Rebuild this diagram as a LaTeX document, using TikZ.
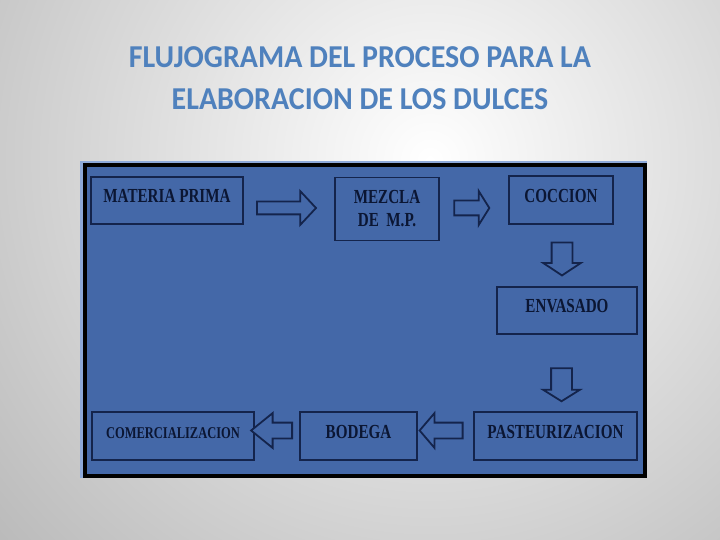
\documentclass[tikz,border=0pt]{standalone}
\usepackage{fontspec}
\usepackage{tikz}
\usetikzlibrary{shapes.arrows}
\setmainfont{Liberation Serif}
\newfontfamily\boxfont[FakeStretch=0.76]{Liberation Serif}
\newfontfamily\titlefont[FakeStretch=0.94]{Carlito}
\definecolor{panelBlue}{HTML}{4468A8}
\definecolor{edgeBlue}{HTML}{8DA9D9}
\definecolor{boxLine}{HTML}{14244C}
\definecolor{boxText}{HTML}{0B1633}
\definecolor{titleBlue}{HTML}{4F81BD}
\tikzstyle{heading} = [text=titleBlue, anchor=base, font=\titlefont\bfseries\fontsize{32}{40}\selectfont]
\tikzstyle{stepbox} = [rectangle, draw=boxLine, line width=1.3bp, text=boxText, text centered, font=\boxfont\bfseries\fontsize{20}{23}\selectfont]
\tikzstyle{oneline} = [text height=12bp, text depth=7.5bp]
\tikzstyle{blockarrow} = [single arrow, draw=boxLine, line width=1.8bp, fill=panelBlue, inner sep=0pt, text height=0pt, text depth=0pt, single arrow tip angle=100]

\begin{document}
\begin{tikzpicture}[x=1bp, y=-1bp]

\useasboundingbox (0,0) rectangle (720,540);
\begin{scope}
\clip (0,0) rectangle (720,540);
\shade[inner color=white, outer color=black!42] (430,160) circle (900bp);
\end{scope}

\node[heading] at (360,68) (titleTop) {FLUJOGRAMA DEL PROCESO PARA LA};
\node[heading] at (360,110) (titleBottom) {ELABORACION DE LOS DULCES};

\fill[edgeBlue] (80,161) rectangle (647,478);
\draw[black, line width=4bp, fill=panelBlue] (84.5,165) rectangle (644.5,475.5);

\node[stepbox, oneline, minimum width=152bp, minimum height=47bp] at (167,200.5) (materiaPrima) {MATERIA PRIMA};
\node[stepbox, minimum width=104bp, minimum height=63bp, align=center] at (387,209) (mezcla) {MEZCLA\\DE\ \ M.P.};
\node[stepbox, oneline, minimum width=104bp, minimum height=48bp] at (561,200) (coccion) {COCCION};
\node[stepbox, oneline, minimum width=140bp, minimum height=47bp] at (567,310.5) (envasado) {ENVASADO};
\node[stepbox, oneline, minimum width=163bp, minimum height=48bp] at (555.5,436) (pasteurizacion) {PASTEURIZACION};
\node[stepbox, oneline, minimum width=117bp, minimum height=48bp] at (358.5,436) (bodega) {BODEGA};
\node[stepbox, oneline, minimum width=162bp, minimum height=48bp, font=\boxfont\bfseries\fontsize{16.5}{20}\selectfont] at (173,436) (comercializacion) {COMERCIALIZACION};

\node[blockarrow, minimum height=59bp, inner ysep=5.5bp, single arrow head extend=10.5bp, single arrow tip angle=94] at (283.5,208) (toMezcla) {};
\node[blockarrow, minimum height=35bp, inner ysep=6.5bp, single arrow head extend=9.5bp, single arrow tip angle=116] at (469.5,208) (toCoccion) {};
\node[blockarrow, minimum height=33bp, inner ysep=9.5bp, single arrow head extend=8.5bp, single arrow tip angle=113, rotate=-90] at (562,255.5) (toEnvasado) {};
\node[blockarrow, minimum height=33bp, inner ysep=9.5bp, single arrow head extend=8bp, single arrow tip angle=116, rotate=-90] at (561.5,381.5) (toPasteurizacion) {};
\node[blockarrow, minimum height=43bp, inner ysep=7bp, single arrow head extend=9.5bp, single arrow tip angle=99, rotate=180] at (444.5,430.5) (toBodega) {};
\node[blockarrow, minimum height=41bp, inner ysep=7bp, single arrow head extend=9.5bp, single arrow tip angle=78, rotate=180] at (276.5,430.5) (toComercializacion) {};

\end{tikzpicture}
\end{document}
